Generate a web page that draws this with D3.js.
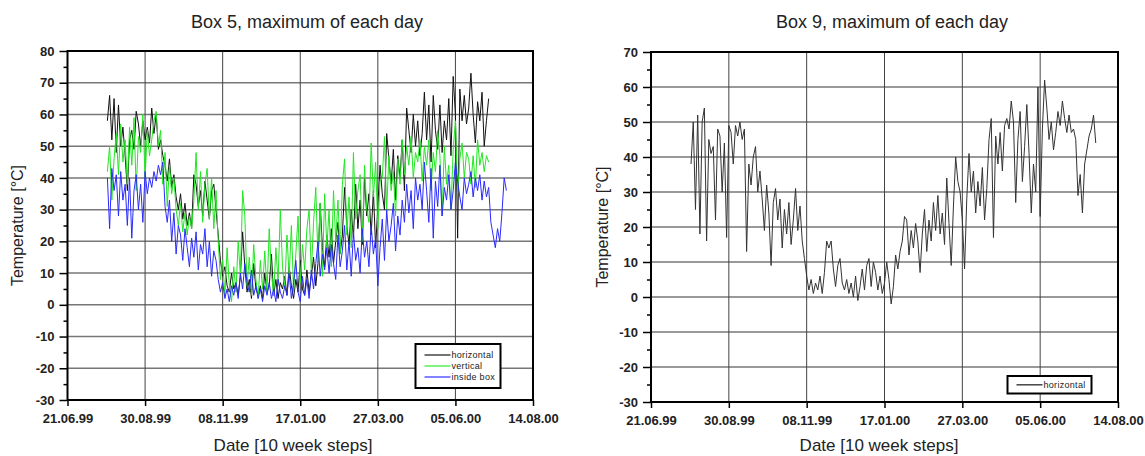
<!DOCTYPE html>
<html>
<head>
<meta charset="utf-8">
<script src="https://cdn.jsdelivr.net/npm/d3@7"></script>
<style>
body { margin: 0; background: #fff; }
svg text { font-family: "Liberation Sans", Arial, sans-serif; }
</style>
</head>
<body>
<div id="chart"></div>
<script>
// x axis labels (10 week steps) and the y tick values of both charts
var axisDates = ["21.06.99", "30.08.99", "08.11.99", "17.01.00", "27.03.00", "05.06.00", "14.08.00"];
var box5Ticks = [80, 70, 60, 50, 40, 30, 20, 10, 0, -10, -20, -30];
var box9Ticks = [70, 60, 50, 40, 30, 20, 10, 0, -10, -20, -30];

// daily maxima, read every second day starting at firstDay
var firstDay = "27.07.99";
var stepDays = 2;

var box5Horizontal = [
  58, 66, 52, 65, 48, 63, 50, 56, 47, 36,
  52, 55, 49, 61, 57, 50, 58, 52, 56, 51,
  62, 54, 60, 49, 52, 47, 44, 39, 46, 37,
  41, 34, 30, 35, 27, 32, 25, 29, 24, 41,
  38, 31, 36, 28, 39, 33, 27, 36, 38, 30,
  22, 14, 9, 12, 6, 4, 10, 5, 7, 3,
  9, 23, 12, 4, 8, 2, 13, 5, 3, 6,
  2, 10, 4, 6, 16, 3, 8, 2, 7, 5,
  9, 3, 12, 6, 2, 8, 4, 14, 5, 3,
  11, 4, 9, 15, 6, 13, 32, 18, 12, 22,
  15, 24, 13, 20, 26, 16, 22, 37, 25, 19,
  30, 21, 38, 24, 33, 19, 40, 28, 35, 22,
  36, 18, 31, 44, 35, 30, 54, 46, 38, 49,
  33, 47, 40, 52, 36, 62, 55, 48, 60, 50,
  58, 47, 54, 67, 52, 63, 45, 66, 55, 49,
  63, 48, 58, 52, 65, 47, 72, 60, 21, 68,
  58, 66, 57, 62, 73, 60, 51, 64, 58, 67,
  50, 58, 65
];

var box5Vertical = [
  42, 50, 33, 46, 54, 41, 57, 45, 52, 38,
  56, 44, 59, 36, 53, 48, 60, 40, 55, 47,
  52, 58, 61, 50, 55, 38, 48, 31, 44, 35,
  40, 30, 25, 32, 23, 29, 22, 28, 24, 33,
  48, 30, 42, 26, 38, 43, 27, 40, 24, 36,
  20, 8, 14, 3, 18, 6, 1, 12, 4, 20,
  9, 36, 28, 6, 15, 3, 19, 8, 2, 14,
  5, 17, 4, 24, 10, 3, 18, 7, 30, 12,
  5, 22, 9, 25, 4, 16, 28, 7, 19, 11,
  24, 30, 10, 26, 37, 14, 32, 9, 35, 18,
  30, 12, 36, 20, 33, 16, 38, 46, 22, 34,
  18, 48, 27, 36, 41, 20, 44, 30, 26, 51,
  34, 45, 24, 39, 40, 53, 30, 47, 36, 42,
  28, 46, 38, 52, 41, 50, 44, 53, 40, 48,
  45, 52, 39, 50, 44, 52, 36, 48, 42, 55,
  47, 28, 50, 38, 44, 30, 49, 58, 35, 46,
  51, 40, 48, 46, 38, 47, 37, 52, 44, 48,
  42, 47, 45
];

var box5Inside = [
  40, 24, 43, 36, 41, 28, 42, 33, 38, 25,
  40, 21, 36, 41, 30, 38, 26, 42, 35, 40,
  37, 42, 39, 44, 41, 45, 31, 26, 33, 20,
  29, 16, 25, 22, 14, 24, 18, 12, 21, 15,
  23, 11, 19, 16, 24, 12, 20, 9, 17, 14,
  8, 4, 7, 2, 5, 1, 6, 3, 7, 2,
  10, 5, 13, 7, 4, 11, 3, 6, 2, 5,
  1, 6, 3, 7, 2, 5, 1, 8, 4, 2,
  6, 3, 10, 2, 7, 14, 4, 1, 9, 3,
  8, 2, 11, 5, 13, 20, 9, 16, 11, 18,
  10, 19, 13, 8, 22, 12, 17, 25, 11, 20,
  9, 23, 14, 18, 10, 24, 15, 20, 12, 25,
  16, 21, 6, 18, 27, 14, 30, 20, 25, 32,
  17, 28, 22, 33, 26, 38, 29, 36, 24, 40,
  33, 38, 30, 45, 36, 26, 43, 21, 39, 31,
  44, 28, 37, 33, 41, 30, 36, 45, 39, 34,
  30, 40, 35, 38, 42, 34, 40, 36, 41, 33,
  39, 34, 37, 26, 22, 18, 24, 20, 29, 40,
  36
];

var box9Horizontal = [
  38, 50, 25, 52, 18, 50, 54, 16, 45, 41,
  43, 22, 48, 46, 30, 44, 17, 49, 47, 38,
  49, 46, 50, 45, 48, 13, 38, 32, 40, 43,
  30, 36, 28, 19, 32, 24, 9, 27, 31, 22,
  28, 14, 25, 18, 27, 15, 22, 31, 19, 26,
  16, 11, 6, 2, 5, 1, 4, 2, 6, 1,
  7, 16, 14, 16, 8, 3, 9, 11, 4, 2,
  5, 1, 4, 0, 6, -1, 3, 8, 2, 9,
  11, 3, 10, 7, 2, 6, 1, 4, 10, 5,
  -2, 3, 12, 8, 13, 16, 23, 22, 12, 19,
  14, 21, 16, 7, 18, 25, 13, 22, 16, 27,
  19, 29, 18, 24, 15, 34, 21, 9, 26, 40,
  33, 30, 22, 8, 28, 41, 30, 36, 24, 33,
  26, 37, 22, 31, 45, 51, 17, 46, 38, 47,
  36, 49, 51, 48, 56, 50, 27, 45, 53, 33,
  43, 55, 41, 24, 38, 30, 60, 23, 48, 62,
  54, 45, 50, 42, 47, 53, 49, 56, 51, 47,
  52, 47, 48, 45, 29, 35, 24, 38, 42, 46,
  48, 52, 44
];

var parseDay = d3.utcParse("%d.%m.%y");
var formatDay = d3.utcFormat("%d.%m.%y");
var tickDates = axisDates.map(parseDay);
var startDate = parseDay(firstDay);

function toPoints(values) {
  return values.map((v, i) => ({ date: d3.utcDay.offset(startDate, i * stepDays), value: v }));
}

var svg = d3.select('#chart')
  .append('svg')
    .attr('width', 1145)
    .attr('height', 456);

svg.append('rect')
  .attr('width', 1145)
  .attr('height', 456)
  .attr('fill', '#fff');

function buildChart(cfg) {
  var xScale = d3.scaleUtc()
    .domain([tickDates[0], tickDates[tickDates.length - 1]])
    .range([cfg.left, cfg.right]);

  var yScale = d3.scaleLinear()
    .domain([d3.min(cfg.ticks), d3.max(cfg.ticks)])
    .range([cfg.bottom, cfg.top]);

  var minorTicks = [];
  for (var i = 0; i < cfg.ticks.length - 1; i++) {
    var a = cfg.ticks[i], b = cfg.ticks[i + 1];
    minorTicks.push(a + (b - a) * 0.5);
  }

  var g = svg.append('g');

  // grid
  g.append('g')
    .selectAll('line')
    .data(cfg.ticks.slice(1, -1))
    .enter()
    .append('line')
      .attr('x1', cfg.left)
      .attr('x2', cfg.right)
      .attr('y1', d => yScale(d))
      .attr('y2', d => yScale(d))
      .attr('stroke', '#777')
      .attr('stroke-width', 1.5);

  g.append('g')
    .selectAll('line')
    .data(tickDates.slice(1, -1))
    .enter()
    .append('line')
      .attr('x1', d => xScale(d))
      .attr('x2', d => xScale(d))
      .attr('y1', cfg.top)
      .attr('y2', cfg.bottom)
      .attr('stroke', '#444')
      .attr('stroke-width', 1);

  // data lines
  var clipId = 'clip' + cfg.id;
  svg.append('clipPath')
    .attr('id', clipId)
    .append('rect')
      .attr('x', cfg.left)
      .attr('y', cfg.top)
      .attr('width', cfg.right - cfg.left)
      .attr('height', cfg.bottom - cfg.top);

  var line = d3.line()
    .x(d => xScale(d.date))
    .y(d => yScale(d.value));

  cfg.series.forEach(function(s) {
    g.append('path')
      .datum(toPoints(s.values))
      .attr('clip-path', 'url(#' + clipId + ')')
      .attr('fill', 'none')
      .attr('stroke', s.color)
      .attr('stroke-width', 1)
      .attr('stroke-linejoin', 'round')
      .attr('d', line);
  });

  // axes
  var yAxis = g.append('g')
    .attr('transform', `translate(${cfg.left}, 0)`)
    .call(d3.axisLeft(yScale).tickValues(cfg.ticks).tickFormat(d => String(d)).tickSize(8).tickPadding(5));

  g.append('g')
    .attr('transform', `translate(${cfg.left}, 0)`)
    .call(d3.axisLeft(yScale).tickValues(minorTicks).tickSize(4).tickFormat(''))
    .select('.domain').remove();

  var xAxis = g.append('g')
    .attr('transform', `translate(0, ${cfg.bottom})`)
    .call(d3.axisBottom(xScale).tickValues(tickDates).tickFormat(formatDay).tickSize(6).tickPadding(8));

  g.selectAll('.domain').remove();
  g.selectAll('.tick line').attr('stroke', '#000').attr('stroke-width', 1.5);
  [yAxis, xAxis].forEach(function(ax) {
    ax.selectAll('text')
      .attr('font-size', 13)
      .attr('font-weight', 'bold')
      .attr('fill', '#222')
      .style('font-family', '"Liberation Sans", Arial, sans-serif');
  });

  // frame
  g.append('rect')
    .attr('x', cfg.left)
    .attr('y', cfg.top)
    .attr('width', cfg.right - cfg.left)
    .attr('height', cfg.bottom - cfg.top)
    .attr('fill', 'none')
    .attr('stroke', '#000')
    .attr('stroke-width', 2);

  // titles
  g.append('text')
    .attr('x', cfg.titleX)
    .attr('y', 28)
    .attr('text-anchor', 'middle')
    .attr('font-size', 18)
    .attr('fill', '#222')
    .text(cfg.title);

  g.append('text')
    .attr('x', cfg.xLabelX)
    .attr('y', 451)
    .attr('text-anchor', 'middle')
    .attr('font-size', 17)
    .attr('fill', '#222')
    .text('Date [10 week steps]');

  g.append('text')
    .attr('transform', `translate(${cfg.yLabelX}, ${(cfg.top + cfg.bottom) / 2}) rotate(-90)`)
    .attr('dy', '0.35em')
    .attr('text-anchor', 'middle')
    .attr('font-size', 16)
    .attr('fill', '#222')
    .text('Temperature [°C]');

  // legend
  var lg = cfg.legend;
  g.append('rect')
    .attr('x', lg.x)
    .attr('y', lg.y)
    .attr('width', lg.w)
    .attr('height', lg.h)
    .attr('fill', '#fff')
    .attr('stroke', '#000')
    .attr('stroke-width', 2);

  cfg.series.forEach(function(s, i) {
    var ly = lg.y + lg.firstRow + i * lg.rowStep;
    g.append('line')
      .attr('x1', lg.x + 9)
      .attr('x2', lg.x + 35)
      .attr('y1', ly)
      .attr('y2', ly)
      .attr('stroke', s.legendColor)
      .attr('stroke-width', 1.5);
    g.append('text')
      .attr('x', lg.x + 36)
      .attr('y', ly)
      .attr('dy', '0.35em')
      .attr('font-size', 9)
      .attr('letter-spacing', 0.3)
      .attr('fill', '#222')
      .text(s.name);
  });
}

buildChart({
  id: 5,
  left: 67.5, right: 533, top: 51, bottom: 400,
  ticks: box5Ticks,
  title: 'Box 5, maximum of each day',
  titleX: 307, xLabelX: 293, yLabelX: 17,
  legend: { x: 415.5, y: 344, w: 85, h: 44, firstRow: 11, rowStep: 11 },
  series: [
    { name: 'horizontal', values: box5Horizontal, color: '#111', legendColor: '#444' },
    { name: 'vertical', values: box5Vertical, color: '#22e622', legendColor: '#55f055' },
    { name: 'inside box', values: box5Inside, color: '#2a2aff', legendColor: '#5a5aff' }
  ]
});

buildChart({
  id: 9,
  left: 651, right: 1118, top: 52, bottom: 402,
  ticks: box9Ticks,
  title: 'Box 9, maximum of each day',
  titleX: 892, xLabelX: 879, yLabelX: 602,
  legend: { x: 1007.5, y: 376, w: 84, h: 17.5, firstRow: 8.8, rowStep: 11 },
  series: [
    { name: 'horizontal', values: box9Horizontal, color: '#333', legendColor: '#444' }
  ]
});
</script>
</body>
</html>
